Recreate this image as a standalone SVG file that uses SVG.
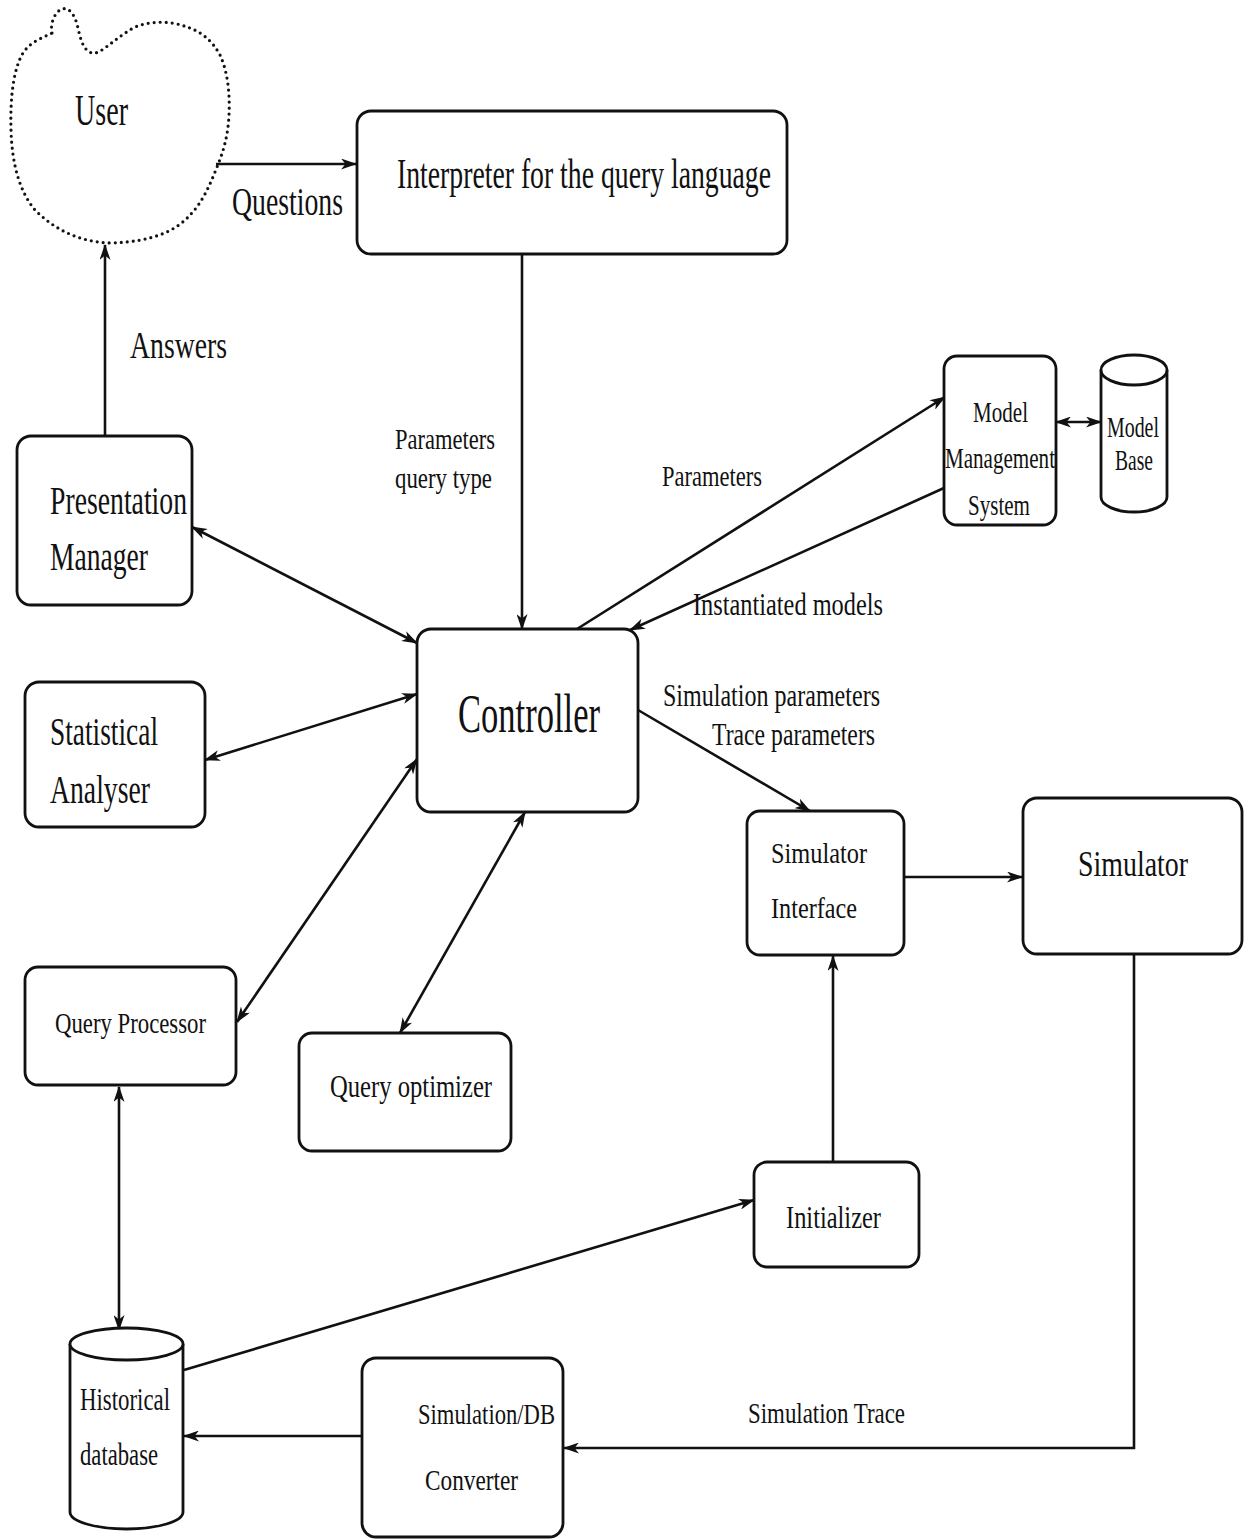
<svg xmlns="http://www.w3.org/2000/svg" width="1244" height="1540" viewBox="0 0 1244 1540">
<style>
.box{fill:#fff;stroke:#111;stroke-width:2.8}
.ln{fill:none;stroke:#111;stroke-width:2.6}
.t{font-family:"Liberation Serif","Times New Roman",serif;fill:#111}
</style>
<defs>
<marker id="ah" viewBox="0 0 16 11" markerWidth="16" markerHeight="11" refX="15" refY="5.5" orient="auto-start-reverse" markerUnits="userSpaceOnUse">
<path d="M0,0 L16,5.5 L0,11 L4.5,5.5 z" fill="#111"/>
</marker>
</defs>
<rect width="1244" height="1540" fill="#fff"/>

<g id="connectors">
<line class="ln" x1="216" y1="164" x2="356" y2="164" marker-end="url(#ah)"/>
<line class="ln" x1="105" y1="436" x2="105" y2="245" marker-end="url(#ah)"/>
<line class="ln" x1="522" y1="254" x2="522" y2="629" marker-end="url(#ah)"/>
<line class="ln" x1="192" y1="527" x2="417" y2="643" marker-start="url(#ah)" marker-end="url(#ah)"/>
<line class="ln" x1="205" y1="760" x2="417" y2="694" marker-start="url(#ah)" marker-end="url(#ah)"/>
<line class="ln" x1="237" y1="1022" x2="417" y2="759" marker-start="url(#ah)" marker-end="url(#ah)"/>
<line class="ln" x1="400" y1="1033" x2="525" y2="812" marker-start="url(#ah)" marker-end="url(#ah)"/>
<line class="ln" x1="577" y1="629" x2="945" y2="397" marker-end="url(#ah)"/>
<line class="ln" x1="944" y1="488" x2="630" y2="630" marker-end="url(#ah)"/>
<line class="ln" x1="1056" y1="422" x2="1101" y2="422" marker-start="url(#ah)" marker-end="url(#ah)"/>
<line class="ln" x1="638" y1="710" x2="810" y2="811" marker-end="url(#ah)"/>
<line class="ln" x1="904" y1="877" x2="1022" y2="877" marker-end="url(#ah)"/>
<line class="ln" x1="833" y1="1162" x2="833" y2="956" marker-end="url(#ah)"/>
<path class="ln" d="M1134,955 V1448 H564" marker-end="url(#ah)"/>
<line class="ln" x1="362" y1="1436" x2="184" y2="1436" marker-end="url(#ah)"/>
<line class="ln" x1="184" y1="1370" x2="754" y2="1200" marker-end="url(#ah)"/>
<line class="ln" x1="119" y1="1087" x2="119" y2="1330" marker-start="url(#ah)" marker-end="url(#ah)"/>
<text class="t" x="232" y="215" font-size="40" textLength="111" lengthAdjust="spacingAndGlyphs">Questions</text>
<text class="t" x="130" y="358" font-size="38" textLength="97" lengthAdjust="spacingAndGlyphs">Answers</text>
<text class="t" x="395" y="449" font-size="29" textLength="100" lengthAdjust="spacingAndGlyphs">Parameters</text>
<text class="t" x="395" y="488" font-size="29" textLength="97" lengthAdjust="spacingAndGlyphs">query type</text>
<text class="t" x="662" y="486" font-size="29" textLength="100" lengthAdjust="spacingAndGlyphs">Parameters</text>
<text class="t" x="693" y="615" font-size="31" textLength="190" lengthAdjust="spacingAndGlyphs">Instantiated models</text>
<text class="t" x="663" y="706" font-size="31" textLength="217" lengthAdjust="spacingAndGlyphs">Simulation parameters</text>
<text class="t" x="712" y="745" font-size="31" textLength="163" lengthAdjust="spacingAndGlyphs">Trace parameters</text>
<text class="t" x="748" y="1423" font-size="30" textLength="157" lengthAdjust="spacingAndGlyphs">Simulation Trace</text>
</g>

<g id="user">
<path d="M52,33 C50,25 54,12 62,9 C69,7 74,14 77,24 C80,36 82,50 92,53 C100,55 110,42 133,28 C150,20 172,21 187,27 C200,31 212,40 220,55 C228,72 230,95 229,115 C228,135 224,150 217,167 C210,185 202,203 190,215 C175,232 150,242 110,243 C80,242 55,230 35,210 C20,192 12,165 11,130 C10,95 14,68 23,53 C30,42 42,38 52,33 Z" fill="none" stroke="#111" stroke-width="3.2" stroke-dasharray="0 6" stroke-linecap="round"/>
<text class="t" x="75" y="125" font-size="44" textLength="53" lengthAdjust="spacingAndGlyphs">User</text>
</g>

<g id="interpreter">
<rect class="box" x="357" y="111" width="430" height="143" rx="14"/>
<text class="t" x="397" y="188" font-size="42" textLength="374" lengthAdjust="spacingAndGlyphs">Interpreter for the query language</text>
</g>

<g id="presentation-manager">
<rect class="box" x="17" y="436" width="175" height="169" rx="14"/>
<text class="t" x="50" y="514" font-size="40" textLength="137" lengthAdjust="spacingAndGlyphs">Presentation</text>
<text class="t" x="50" y="570" font-size="40" textLength="98" lengthAdjust="spacingAndGlyphs">Manager</text>
</g>

<g id="statistical-analyser">
<rect class="box" x="25" y="682" width="180" height="145" rx="14"/>
<text class="t" x="50" y="745" font-size="40" textLength="108" lengthAdjust="spacingAndGlyphs">Statistical</text>
<text class="t" x="50" y="803" font-size="40" textLength="100" lengthAdjust="spacingAndGlyphs">Analyser</text>
</g>

<g id="controller">
<rect class="box" x="417" y="629" width="221" height="183" rx="14"/>
<text class="t" x="458" y="732" font-size="54" textLength="142" lengthAdjust="spacingAndGlyphs">Controller</text>
</g>

<g id="model-management-system">
<rect class="box" x="944" y="356" width="112" height="169" rx="13"/>
<text class="t" x="973" y="422" font-size="29" textLength="55" lengthAdjust="spacingAndGlyphs">Model</text>
<text class="t" x="945" y="468" font-size="29" textLength="110" lengthAdjust="spacingAndGlyphs">Management</text>
<text class="t" x="968" y="515" font-size="29" textLength="62" lengthAdjust="spacingAndGlyphs">System</text>
</g>

<g id="model-base">
<path class="box" d="M1101,370 V497 A33,15 0 0 0 1167,497 V370"/>
<ellipse class="box" cx="1134" cy="370" rx="33" ry="15"/>
<text class="t" x="1107" y="437" font-size="29" textLength="52" lengthAdjust="spacingAndGlyphs">Model</text>
<text class="t" x="1115" y="470" font-size="29" textLength="38" lengthAdjust="spacingAndGlyphs">Base</text>
</g>

<g id="simulator-interface">
<rect class="box" x="747" y="811" width="157" height="144" rx="13"/>
<text class="t" x="771" y="863" font-size="30" textLength="96" lengthAdjust="spacingAndGlyphs">Simulator</text>
<text class="t" x="771" y="918" font-size="30" textLength="86" lengthAdjust="spacingAndGlyphs">Interface</text>
</g>

<g id="simulator">
<rect class="box" x="1023" y="798" width="219" height="156" rx="14"/>
<text class="t" x="1078" y="876" font-size="36" textLength="110" lengthAdjust="spacingAndGlyphs">Simulator</text>
</g>

<g id="query-processor">
<rect class="box" x="25" y="967" width="211" height="118" rx="13"/>
<text class="t" x="55" y="1033" font-size="30" textLength="151" lengthAdjust="spacingAndGlyphs">Query Processor</text>
</g>

<g id="query-optimizer">
<rect class="box" x="299" y="1033" width="212" height="118" rx="13"/>
<text class="t" x="330" y="1097" font-size="32" textLength="162" lengthAdjust="spacingAndGlyphs">Query optimizer</text>
</g>

<g id="initializer">
<rect class="box" x="754" y="1162" width="165" height="105" rx="13"/>
<text class="t" x="786" y="1228" font-size="32" textLength="95" lengthAdjust="spacingAndGlyphs">Initializer</text>
</g>

<g id="historical-database">
<path class="box" d="M70,1344 V1512 A56.5,17 0 0 0 183,1512 V1344"/>
<ellipse class="box" cx="126.5" cy="1344" rx="56.5" ry="16"/>
<text class="t" x="80" y="1410" font-size="32" textLength="90" lengthAdjust="spacingAndGlyphs">Historical</text>
<text class="t" x="80" y="1465" font-size="32" textLength="78" lengthAdjust="spacingAndGlyphs">database</text>
</g>

<g id="simulation-db-converter">
<rect class="box" x="362" y="1358" width="201" height="179" rx="14"/>
<text class="t" x="418" y="1424" font-size="30" textLength="137" lengthAdjust="spacingAndGlyphs">Simulation/DB</text>
<text class="t" x="425" y="1490" font-size="30" textLength="93" lengthAdjust="spacingAndGlyphs">Converter</text>
</g>
</svg>
